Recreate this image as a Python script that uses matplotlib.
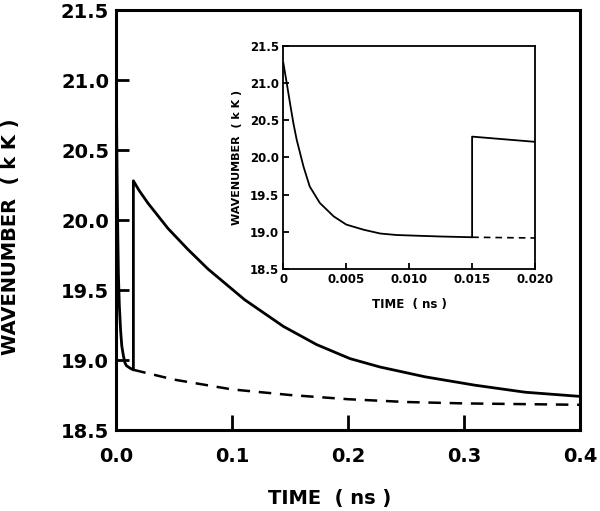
import matplotlib
matplotlib.use('Agg')
import matplotlib.pyplot as plt

# solid curve: fast decay, then the jump at 0.015 ns and slow decay
early_t = [0, 0.00027, 0.00053, 0.0008, 0.00106, 0.0016, 0.0021, 0.0029,
           0.004, 0.005, 0.0064, 0.0077, 0.009, 0.0107, 0.0125, 0.015]
early_w = [21.27, 21.00, 20.73, 20.46, 20.24, 19.88, 19.61, 19.39,
           19.21, 19.10, 19.03, 18.98, 18.96, 18.95, 18.94, 18.93]
late_t = [0.015, 0.02, 0.0276, 0.0448, 0.062, 0.0793, 0.0966, 0.111,
          0.1443, 0.173, 0.2017, 0.2276, 0.2664, 0.3095, 0.3526, 0.4]
late_w = [20.28, 20.21, 20.12, 19.94, 19.79, 19.65, 19.53, 19.43,
          19.24, 19.11, 19.01, 18.95, 18.88, 18.82, 18.77, 18.74]

# dashed curve: no jump
dash_t = [0.015, 0.02, 0.05, 0.1, 0.15, 0.2, 0.25, 0.3, 0.35, 0.4]
dash_w = [18.93, 18.92, 18.86, 18.79, 18.75, 18.72, 18.70, 18.69, 18.685, 18.68]

main_xticks = [0.0, 0.1, 0.2, 0.3, 0.4]
main_xlabels = ['0.0', '0.1', '0.2', '0.3', '0.4']
yticks = [18.5, 19.0, 19.5, 20.0, 20.5, 21.0, 21.5]
ylabels = ['18.5', '19.0', '19.5', '20.0', '20.5', '21.0', '21.5']
inset_xticks = [0, 0.005, 0.010, 0.015, 0.020]
inset_xlabels = ['0', '0.005', '0.010', '0.015', '0.020']

solid_t = early_t + late_t
solid_w = early_w + late_w

plt.rcParams['font.family'] = ['DejaVu Sans']
plt.rcParams['font.weight'] = 'bold'
plt.rcParams['axes.labelweight'] = 'bold'

fig = plt.figure(figsize=(6, 5.11), dpi=100)

# main panel
ax = fig.add_axes([0.1933, 0.1585, 0.7734, 0.8219])
ax.plot(solid_t, solid_w, color='black', lw=2.0, solid_joinstyle='round')
ax.plot(dash_t, dash_w, color='black', lw=1.8, dashes=(5, 3.5))
ax.set_xlim(0, 0.4)
ax.set_ylim(18.5, 21.5)
ax.set_xticks(main_xticks)
ax.set_xticklabels(main_xlabels)
ax.set_yticks(yticks)
ax.set_yticklabels(ylabels)
ax.tick_params(direction='in', length=9, width=2, labelsize=14, pad=5)
ax.tick_params(axis='x', length=11, pad=12)
for s in ax.spines.values():
    s.set_linewidth(2.2)
ax.set_xlabel('TIME  ( ns )', fontsize=14)
ax.xaxis.set_label_coords(0.461, -0.14)
ax.set_ylabel('WAVENUMBER  ( k K )', fontsize=14)
ax.yaxis.set_label_coords(-0.207, 0.46)

# inset
ins = fig.add_axes([0.4722, 0.473, 0.4195, 0.4376])
ins.plot(solid_t, solid_w, color='black', lw=1.3)
ins.plot(dash_t, dash_w, color='black', lw=1.2, dashes=(4, 3))
ins.set_xlim(0, 0.02)
ins.set_ylim(18.5, 21.5)
ins.set_xticks(inset_xticks)
ins.set_xticklabels(inset_xlabels)
ins.set_yticks(yticks)
ins.set_yticklabels(ylabels)
ins.tick_params(direction='in', length=4.5, width=1.3, labelsize=8.5, pad=3)
for s in ins.spines.values():
    s.set_linewidth(1.3)
ins.set_xlabel('TIME  ( ns )', fontsize=8.5, labelpad=8)
ins.set_ylabel('WAVENUMBER  ( k K )', fontsize=8, labelpad=6)

fig.savefig('out.png', dpi=100)
